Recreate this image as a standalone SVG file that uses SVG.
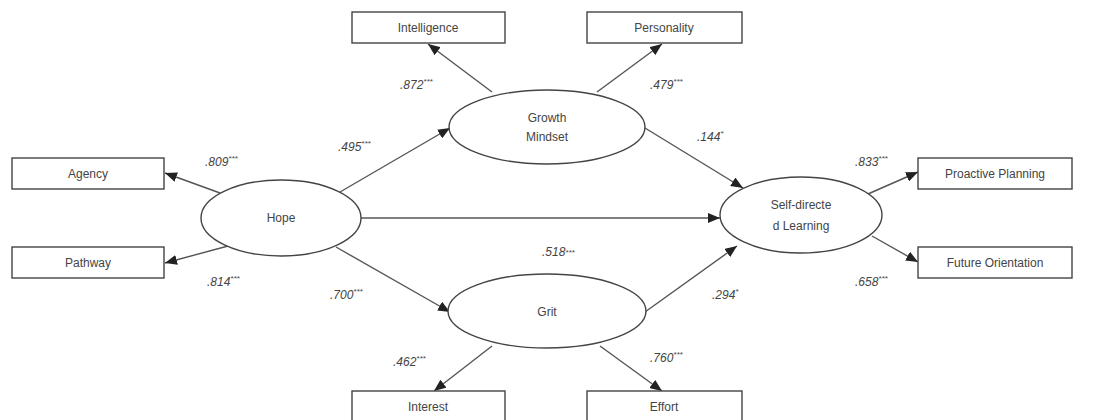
<svg xmlns="http://www.w3.org/2000/svg" width="1109" height="420" viewBox="0 0 1109 420">
  <style>
    .box { fill: #fff; stroke: #444; stroke-width: 1.4; }
    .lat { fill: #fff; stroke: #444; stroke-width: 1.4; }
    .lbl { font-family: "Liberation Sans", Arial, sans-serif; font-size: 12px; fill: #444; text-anchor: middle; dominant-baseline: central; }
    .coef { font-family: "Liberation Sans", Arial, sans-serif; font-size: 12px; fill: #444; font-style: italic; }
    .sup { font-size: 8px; }
    .path { stroke: #555; stroke-width: 1.4; fill: none; marker-end: url(#arr); }
  </style>
  <defs>
    <marker id="arr" markerUnits="userSpaceOnUse" viewBox="0 0 12 10" refX="12" refY="5" markerWidth="12" markerHeight="10" orient="auto">
      <path d="M0,0 L12,5 L0,10 z" fill="#222"/>
    </marker>
  </defs>
  <rect width="1109" height="420" fill="#fff"/>

  <!-- paths between latent factors and indicators -->
  <g id="connectors">
    <line class="path" x1="220" y1="193" x2="165" y2="173"/>
    <line class="path" x1="228" y1="246" x2="165" y2="263"/>
    <line class="path" x1="340" y1="192" x2="450" y2="128"/>
    <line class="path" x1="361" y1="218" x2="720" y2="218"/>
    <line class="path" x1="336" y1="247" x2="450" y2="312"/>
    <line class="path" x1="492" y1="92" x2="428" y2="44"/>
    <line class="path" x1="597" y1="92" x2="662" y2="44"/>
    <line class="path" x1="645" y1="128" x2="743" y2="188"/>
    <line class="path" x1="645" y1="312" x2="737" y2="246"/>
    <line class="path" x1="492" y1="346" x2="434" y2="391"/>
    <line class="path" x1="600" y1="346" x2="662" y2="391"/>
    <line class="path" x1="868" y1="194" x2="918" y2="172"/>
    <line class="path" x1="872" y1="236" x2="918" y2="262"/>
  </g>

  <!-- path coefficients -->
  <g id="coefficients">
    <text class="coef" x="205" y="166">.809<tspan class="sup" dy="-5">***</tspan></text>
    <text class="coef" x="207" y="286">.814<tspan class="sup" dy="-5">***</tspan></text>
    <text class="coef" x="338" y="151">.495<tspan class="sup" dy="-5">***</tspan></text>
    <text class="coef" x="400" y="89">.872<tspan class="sup" dy="-5">***</tspan></text>
    <text class="coef" x="650" y="89">.479<tspan class="sup" dy="-5">***</tspan></text>
    <text class="coef" x="697" y="141">.144<tspan class="sup" dy="-5">*</tspan></text>
    <text class="coef" x="542" y="256">.518<tspan class="sup" dy="-1">***</tspan></text>
    <text class="coef" x="330" y="299">.700<tspan class="sup" dy="-5">***</tspan></text>
    <text class="coef" x="712" y="299">.294<tspan class="sup" dy="-5">*</tspan></text>
    <text class="coef" x="393" y="366">.462<tspan class="sup" dy="-5">***</tspan></text>
    <text class="coef" x="650" y="362">.760<tspan class="sup" dy="-5">***</tspan></text>
    <text class="coef" x="855" y="166">.833<tspan class="sup" dy="-5">***</tspan></text>
    <text class="coef" x="855" y="286">.658<tspan class="sup" dy="-5">***</tspan></text>
  </g>

  <!-- latent factors -->
  <g id="hope">
    <ellipse class="lat" cx="281" cy="218" rx="80" ry="38"/>
    <text class="lbl" x="281" y="218">Hope</text>
  </g>
  <g id="growth-mindset">
    <ellipse class="lat" cx="547" cy="127" rx="98" ry="37"/>
    <text class="lbl" x="547" y="118">Growth</text>
    <text class="lbl" x="547" y="137">Mindset</text>
  </g>
  <g id="grit">
    <ellipse class="lat" cx="547" cy="311" rx="99" ry="37"/>
    <text class="lbl" x="547" y="312">Grit</text>
  </g>
  <g id="self-directed-learning">
    <ellipse class="lat" cx="801" cy="215" rx="81" ry="38"/>
    <text class="lbl" x="801" y="205">Self-directe</text>
    <text class="lbl" x="801" y="226">d Learning</text>
  </g>

  <!-- observed indicators -->
  <g id="intelligence">
    <rect class="box" x="352" y="12" width="153" height="31"/>
    <text class="lbl" x="428" y="28">Intelligence</text>
  </g>
  <g id="personality">
    <rect class="box" x="587" y="12" width="155" height="31"/>
    <text class="lbl" x="664" y="28">Personality</text>
  </g>
  <g id="agency">
    <rect class="box" x="12" y="158" width="152" height="31"/>
    <text class="lbl" x="88" y="174">Agency</text>
  </g>
  <g id="pathway">
    <rect class="box" x="12" y="247" width="152" height="31"/>
    <text class="lbl" x="88" y="263">Pathway</text>
  </g>
  <g id="interest">
    <rect class="box" x="352" y="391" width="153" height="31"/>
    <text class="lbl" x="428" y="407">Interest</text>
  </g>
  <g id="effort">
    <rect class="box" x="587" y="391" width="155" height="31"/>
    <text class="lbl" x="664" y="407">Effort</text>
  </g>
  <g id="proactive-planning">
    <rect class="box" x="918" y="158" width="154" height="31"/>
    <text class="lbl" x="995" y="174">Proactive Planning</text>
  </g>
  <g id="future-orientation">
    <rect class="box" x="918" y="247" width="154" height="31"/>
    <text class="lbl" x="995" y="263">Future Orientation</text>
  </g>
</svg>
